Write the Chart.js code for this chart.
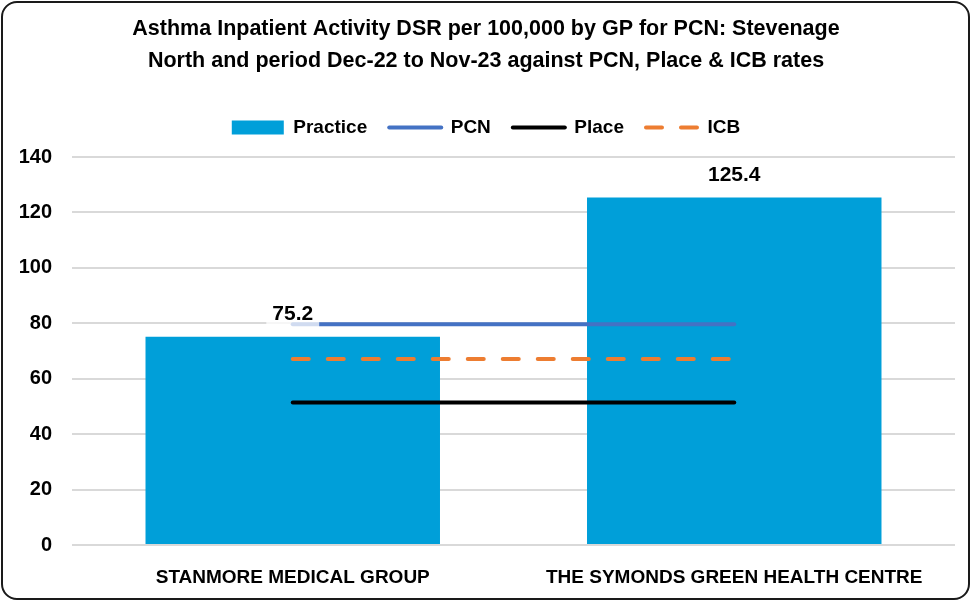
<!DOCTYPE html>
<html>
<head>
<meta charset="utf-8">
<script src="https://cdn.jsdelivr.net/npm/chart.js@4.4.0/dist/chart.umd.min.js"></script>
<style>
    html, body { margin: 0; padding: 0; background: #fff; }
    #frame {
        position: absolute; left: 1px; top: 1px;
        width: 969px; height: 599px;
        box-sizing: border-box;
        border: 2px solid #1a1a1a;
        border-radius: 16px;
        overflow: hidden;
        background: #fff;
    }
    #asthmaChart { display: block; }
</style>
</head>
<body>
<div id="frame"><canvas id="asthmaChart" width="965" height="595"></canvas></div>
<script>
const practices = ['STANMORE MEDICAL GROUP', 'THE SYMONDS GREEN HEALTH CENTRE'];
const practiceRates = [75.2, 125.4];
const pcnRates = [79.7, 79.7];
const placeRates = [51.4, 51.4];
const icbRates = [67.1, 67.1];
const yTicks = [0, 20, 40, 60, 80, 100, 120, 140];

const mainFont = '"Liberation Sans", Arial, sans-serif';

// bar value labels with a see-through white box, like the Excel original
const barLabels = {
    id: 'barLabels',
    afterDatasetsDraw(chart) {
        const ctx = chart.ctx;
        const meta = chart.getDatasetMeta(0);
        ctx.save();
        ctx.font = 'bold 21px ' + mainFont;
        ctx.textAlign = 'center';
        ctx.textBaseline = 'middle';
        meta.data.forEach((bar, i) => {
            const txt = practiceRates[i].toFixed(1);
            const w = ctx.measureText(txt).width;
            const y = bar.y - 22;
            ctx.fillStyle = 'rgba(255,255,255,0.75)';
            ctx.fillRect(bar.x - w / 2 - 6, y - 17, w + 12, 34);
            ctx.fillStyle = '#000';
            ctx.fillText(txt, bar.x, y);
        });
        ctx.restore();
    }
};

const legendGap = {
    id: 'legendGap',
    beforeInit(chart) {
        const fit = chart.legend.fit;
        chart.legend.fit = function () {
            fit.bind(chart.legend)();
            this.height += 10;
        };
    }
};

const ctx = document.getElementById('asthmaChart').getContext('2d');

new Chart(ctx, {
    type: 'bar',
    data: {
        labels: practices,
        datasets: [{
            type: 'bar',
            label: 'Practice',
            data: practiceRates,
            backgroundColor: '#009FD9',
            categoryPercentage: 1,
            barPercentage: 0.667,
            order: 4
        }, {
            type: 'line',
            label: 'PCN',
            data: pcnRates,
            borderColor: '#4472C4',
            borderWidth: 4,
            pointRadius: 0,
            borderCapStyle: 'round',
            order: 1
        }, {
            type: 'line',
            label: 'Place',
            data: placeRates,
            borderColor: '#000000',
            borderWidth: 4,
            pointRadius: 0,
            borderCapStyle: 'round',
            order: 2
        }, {
            type: 'line',
            label: 'ICB',
            data: icbRates,
            borderColor: '#ED7D31',
            borderWidth: 4,
            borderDash: [16, 19],
            pointRadius: 0,
            borderCapStyle: 'round',
            order: 3
        }]
    },
    options: {
        responsive: false,
        animation: false,
        layout: {
            padding: { left: 14, right: 13, top: 0, bottom: 0 }
        },
        plugins: {
            title: {
                display: true,
                text: ['Asthma Inpatient Activity DSR per 100,000 by GP for PCN: Stevenage',
                       'North and period Dec-22 to Nov-23 against PCN, Place & ICB rates'],
                color: '#000',
                font: { family: mainFont, size: 21.5, weight: 'bold', lineHeight: 1.49 },
                padding: { top: 10, bottom: 19 }
            },
            legend: {
                display: true,
                labels: {
                    color: '#000',
                    font: { family: mainFont, size: 19, weight: 'bold' },
                    usePointStyle: true,
                    pointStyleWidth: 52,
                    boxHeight: 14,
                    padding: 22,
                    generateLabels(chart) {
                        return chart.data.datasets.map((ds, i) => ({
                            text: ds.label,
                            datasetIndex: i,
                            pointStyle: ds.type === 'bar' ? 'rect' : 'line',
                            fillStyle: ds.type === 'bar' ? ds.backgroundColor : ds.borderColor,
                            strokeStyle: ds.type === 'bar' ? ds.backgroundColor : ds.borderColor,
                            lineWidth: ds.type === 'bar' ? 0 : 4,
                            lineDash: ds.borderDash || [],
                            lineCap: 'round',
                            fontColor: '#000',
                            hidden: false
                        }));
                    }
                }
            },
            tooltip: { enabled: false }
        },
        scales: {
            x: {
                grid: { display: false, drawTicks: false },
                border: { display: false },
                ticks: {
                    color: '#000',
                    font: { family: mainFont, size: 19, weight: 'bold' },
                    padding: 21,
                    maxRotation: 0,
                    autoSkip: false
                },
                afterFit(scale) {
                    scale.height = 53;
                    scale.paddingLeft = 0;
                    scale.paddingRight = 0;
                }
            },
            y: {
                min: 0,
                max: 140,
                afterBuildTicks(axis) {
                    axis.ticks = yTicks.map(v => ({ value: v }));
                },
                grid: { color: '#D9D9D9', lineWidth: 2, drawTicks: false },
                border: { display: false },
                ticks: {
                    color: '#000',
                    font: { family: mainFont, size: 20, weight: 'bold' },
                    padding: 20
                },
                afterFit(scale) {
                    scale.width = 55;
                }
            }
        }
    },
    plugins: [barLabels, legendGap]
});
</script>
</body>
</html>
